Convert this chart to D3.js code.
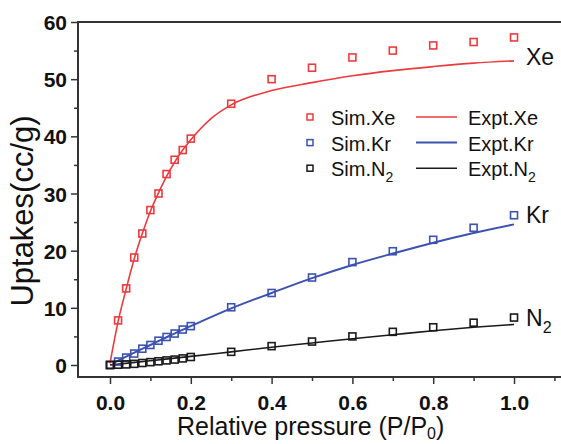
<!DOCTYPE html>
<html>
<head>
<meta charset="utf-8">
<script src="https://cdn.jsdelivr.net/npm/d3@7"></script>
<style>
  body { margin: 0; background: #fff; }
  text { font-family: "Liberation Sans", Arial, sans-serif; }
</style>
</head>
<body>
<div id="chart"></div>
<script>
// simulated uptakes (squares)
const simX  = [0, 0.02, 0.04, 0.06, 0.08, 0.1, 0.12, 0.14, 0.16, 0.18, 0.2, 0.3, 0.4, 0.5, 0.6, 0.7, 0.8, 0.9, 1.0];
const simXe = [0, 7.8, 13.4, 18.8, 23.0, 27.1, 30.0, 33.4, 35.9, 37.6, 39.6, 45.7, 50.0, 52.0, 53.8, 55.0, 55.9, 56.5, 57.3];
const simKr = [0, 0.6, 1.3, 2.0, 2.85, 3.5, 4.25, 4.9, 5.5, 6.2, 6.8, 10.1, 12.6, 15.3, 18.0, 19.9, 21.9, 24.0, 26.2];
const simN2 = [0, 0.05, 0.1, 0.2, 0.35, 0.5, 0.65, 0.8, 0.95, 1.15, 1.4, 2.3, 3.3, 4.1, 5.0, 5.8, 6.6, 7.4, 8.3];

// experimental isotherms (lines)
const exptXeX = [0, 0.02, 0.04, 0.06, 0.08, 0.1, 0.12, 0.14, 0.16, 0.18, 0.2, 0.25, 0.3, 0.4, 0.5, 0.6, 0.7, 0.8, 0.9, 1.0];
const exptXe  = [0.3, 7.6, 13.3, 18.6, 23.0, 26.9, 30.1, 33.0, 35.5, 37.6, 39.4, 43.1, 45.5, 48.0, 49.4, 50.6, 51.5, 52.2, 52.8, 53.2];
const exptKrX = [0.01, 0.05, 0.1, 0.15, 0.2, 0.3, 0.4, 0.5, 0.6, 0.7, 0.8, 0.9, 1.0];
const exptKr  = [0.4, 1.8, 3.5, 5.2, 6.8, 9.9, 12.6, 15.2, 17.5, 19.5, 21.4, 23.1, 24.6];
const exptN2X = [0, 0.1, 0.2, 0.3, 0.4, 0.5, 0.6, 0.7, 0.8, 0.9, 1.0];
const exptN2  = [0, 0.75, 1.5, 2.3, 3.1, 3.85, 4.6, 5.3, 6.0, 6.6, 7.1];

const xTicks = [0, 0.2, 0.4, 0.6, 0.8, 1.0];
const xMinor = [0.1, 0.3, 0.5, 0.7, 0.9, 1.1];
const yTicks = [0, 10, 20, 30, 40, 50, 60];
const yMinor = [5, 15, 25, 35, 45, 55];

const colors = { Xe: "#ec3a3f", Kr: "#3b52b0", N2: "#1a1a1a" };

const W = 561, H = 444;
const svg = d3.select("#chart").append("svg")
  .attr("width", W).attr("height", H);

// scales
const x = d3.scaleLinear().domain([-0.0792, 1.1163]).range([78, 561]);
const y = d3.scaleLinear().domain([-2.1, 60]).range([377, 22]);

const axisColor = "#333";

// frame top line
svg.append("line")
  .attr("x1", 78).attr("x2", W).attr("y1", 22).attr("y2", 22)
  .attr("stroke", axisColor).attr("stroke-width", 2);

// x axis
const gx = svg.append("g").attr("transform", "translate(0,377)");
gx.call(d3.axisBottom(x).tickValues(xTicks).tickSize(7).tickPadding(11)
  .tickFormat(d3.format(".1f")));
gx.append("g").call(d3.axisBottom(x).tickValues(xMinor).tickSize(4).tickFormat(""))
  .select(".domain").remove();

// y axis
const gy = svg.append("g").attr("transform", "translate(78,0)");
gy.call(d3.axisLeft(y).tickValues(yTicks).tickSize(7).tickPadding(4));
gy.append("g").call(d3.axisLeft(y).tickValues(yMinor).tickSize(4).tickFormat(""))
  .select(".domain").remove();

[gx, gy].forEach(g => {
  g.select(".domain").remove();
  g.selectAll(".tick line").attr("stroke", axisColor).attr("stroke-width", 1.5);
  g.selectAll(".tick text")
    .attr("fill", "#111")
    .style("font-size", "21px")
    .style("font-weight", "bold")
    .style("font-family", "'Liberation Sans', Arial, sans-serif");
});
gy.selectAll(".tick text").attr("dy", "0.36em");

// plain axis lines across the full width/height
svg.append("line").attr("x1", 78).attr("x2", W).attr("y1", 377).attr("y2", 377)
  .attr("stroke", axisColor).attr("stroke-width", 2);
svg.append("line").attr("x1", 78).attr("x2", 78).attr("y1", 21).attr("y2", 378)
  .attr("stroke", axisColor).attr("stroke-width", 2);

// lines
const line = d3.line().x(d => x(d[0])).y(d => y(d[1])).curve(d3.curveMonotoneX);
const lines = [
  { key: "Xe", xs: exptXeX, ys: exptXe, w: 1.6 },
  { key: "Kr", xs: exptKrX, ys: exptKr, w: 2 },
  { key: "N2", xs: exptN2X, ys: exptN2, w: 1.6 }
];
lines.forEach(s => {
  svg.append("path")
    .datum(s.xs.map((v, i) => [v, s.ys[i]]))
    .attr("fill", "none")
    .attr("stroke", colors[s.key])
    .attr("stroke-width", s.w)
    .attr("d", line);
});

// squares
const sims = [
  { key: "Xe", ys: simXe },
  { key: "Kr", ys: simKr },
  { key: "N2", ys: simN2 }
];
const sq = 7;
sims.forEach(s => {
  svg.append("g").selectAll("rect")
    .data(simX.map((v, i) => [v, s.ys[i]]))
    .join("rect")
    .attr("x", d => x(d[0]) - sq / 2)
    .attr("y", d => y(d[1]) - sq / 2)
    .attr("width", sq).attr("height", sq)
    .attr("fill", "none")
    .attr("stroke", colors[s.key])
    .attr("stroke-width", 1.6);
});

// series labels at right end
const endLabels = [
  { key: "Xe", v: 53.8 },
  { key: "Kr", v: 26.2 },
  { key: "N2", v: 8.3 }
];
endLabels.forEach(l => {
  const t = svg.append("text")
    .attr("x", 526)
    .attr("y", y(l.v) + 8)
    .attr("fill", "#111")
    .style("font-size", "23px");
  if (l.key === "N2") {
    t.append("tspan").text("N");
    t.append("tspan").text("2").attr("dy", 7).style("font-size", "16px");
  } else {
    t.text(l.key);
  }
});

// legend
const legendRows = [
  { key: "Xe", sim: "Sim.Xe", expt: "Expt.Xe" },
  { key: "Kr", sim: "Sim.Kr", expt: "Expt.Kr" },
  { key: "N2", sim: "Sim.N", expt: "Expt.N", sub: "2" }
];
legendRows.forEach((r, i) => {
  const cy = 117 + i * 25.6;
  svg.append("rect")
    .attr("x", 307).attr("y", cy - 3).attr("width", 6).attr("height", 6)
    .attr("fill", "none").attr("stroke", colors[r.key]).attr("stroke-width", 1.5);
  const t1 = svg.append("text").attr("x", 331).attr("y", cy + 8)
    .attr("fill", "#111").style("font-size", "20px").text(r.sim);
  svg.append("line")
    .attr("x1", 416).attr("x2", 457).attr("y1", cy).attr("y2", cy)
    .attr("stroke", colors[r.key]).attr("stroke-width", r.key === "Kr" ? 2 : 1.6);
  const t2 = svg.append("text").attr("x", 468).attr("y", cy + 8)
    .attr("fill", "#111").style("font-size", "20px").text(r.expt);
  if (r.sub) {
    [t1, t2].forEach(t => t.append("tspan").text(r.sub).attr("dy", 6).style("font-size", "14px"));
  }
});

// axis titles
svg.append("text")
  .attr("transform", "translate(33,211) rotate(-90)")
  .attr("text-anchor", "middle")
  .attr("fill", "#111")
  .style("font-size", "31px")
  .text("Uptakes(cc/g)");

const xt = svg.append("text")
  .attr("x", 177).attr("y", 435)
  .attr("fill", "#111")
  .style("font-size", "25px");
xt.append("tspan").text("Relative pressure (P/P");
xt.append("tspan").text("0").attr("dy", 4).style("font-size", "16px");
xt.append("tspan").text(")").attr("dy", -4);
</script>
</body>
</html>
